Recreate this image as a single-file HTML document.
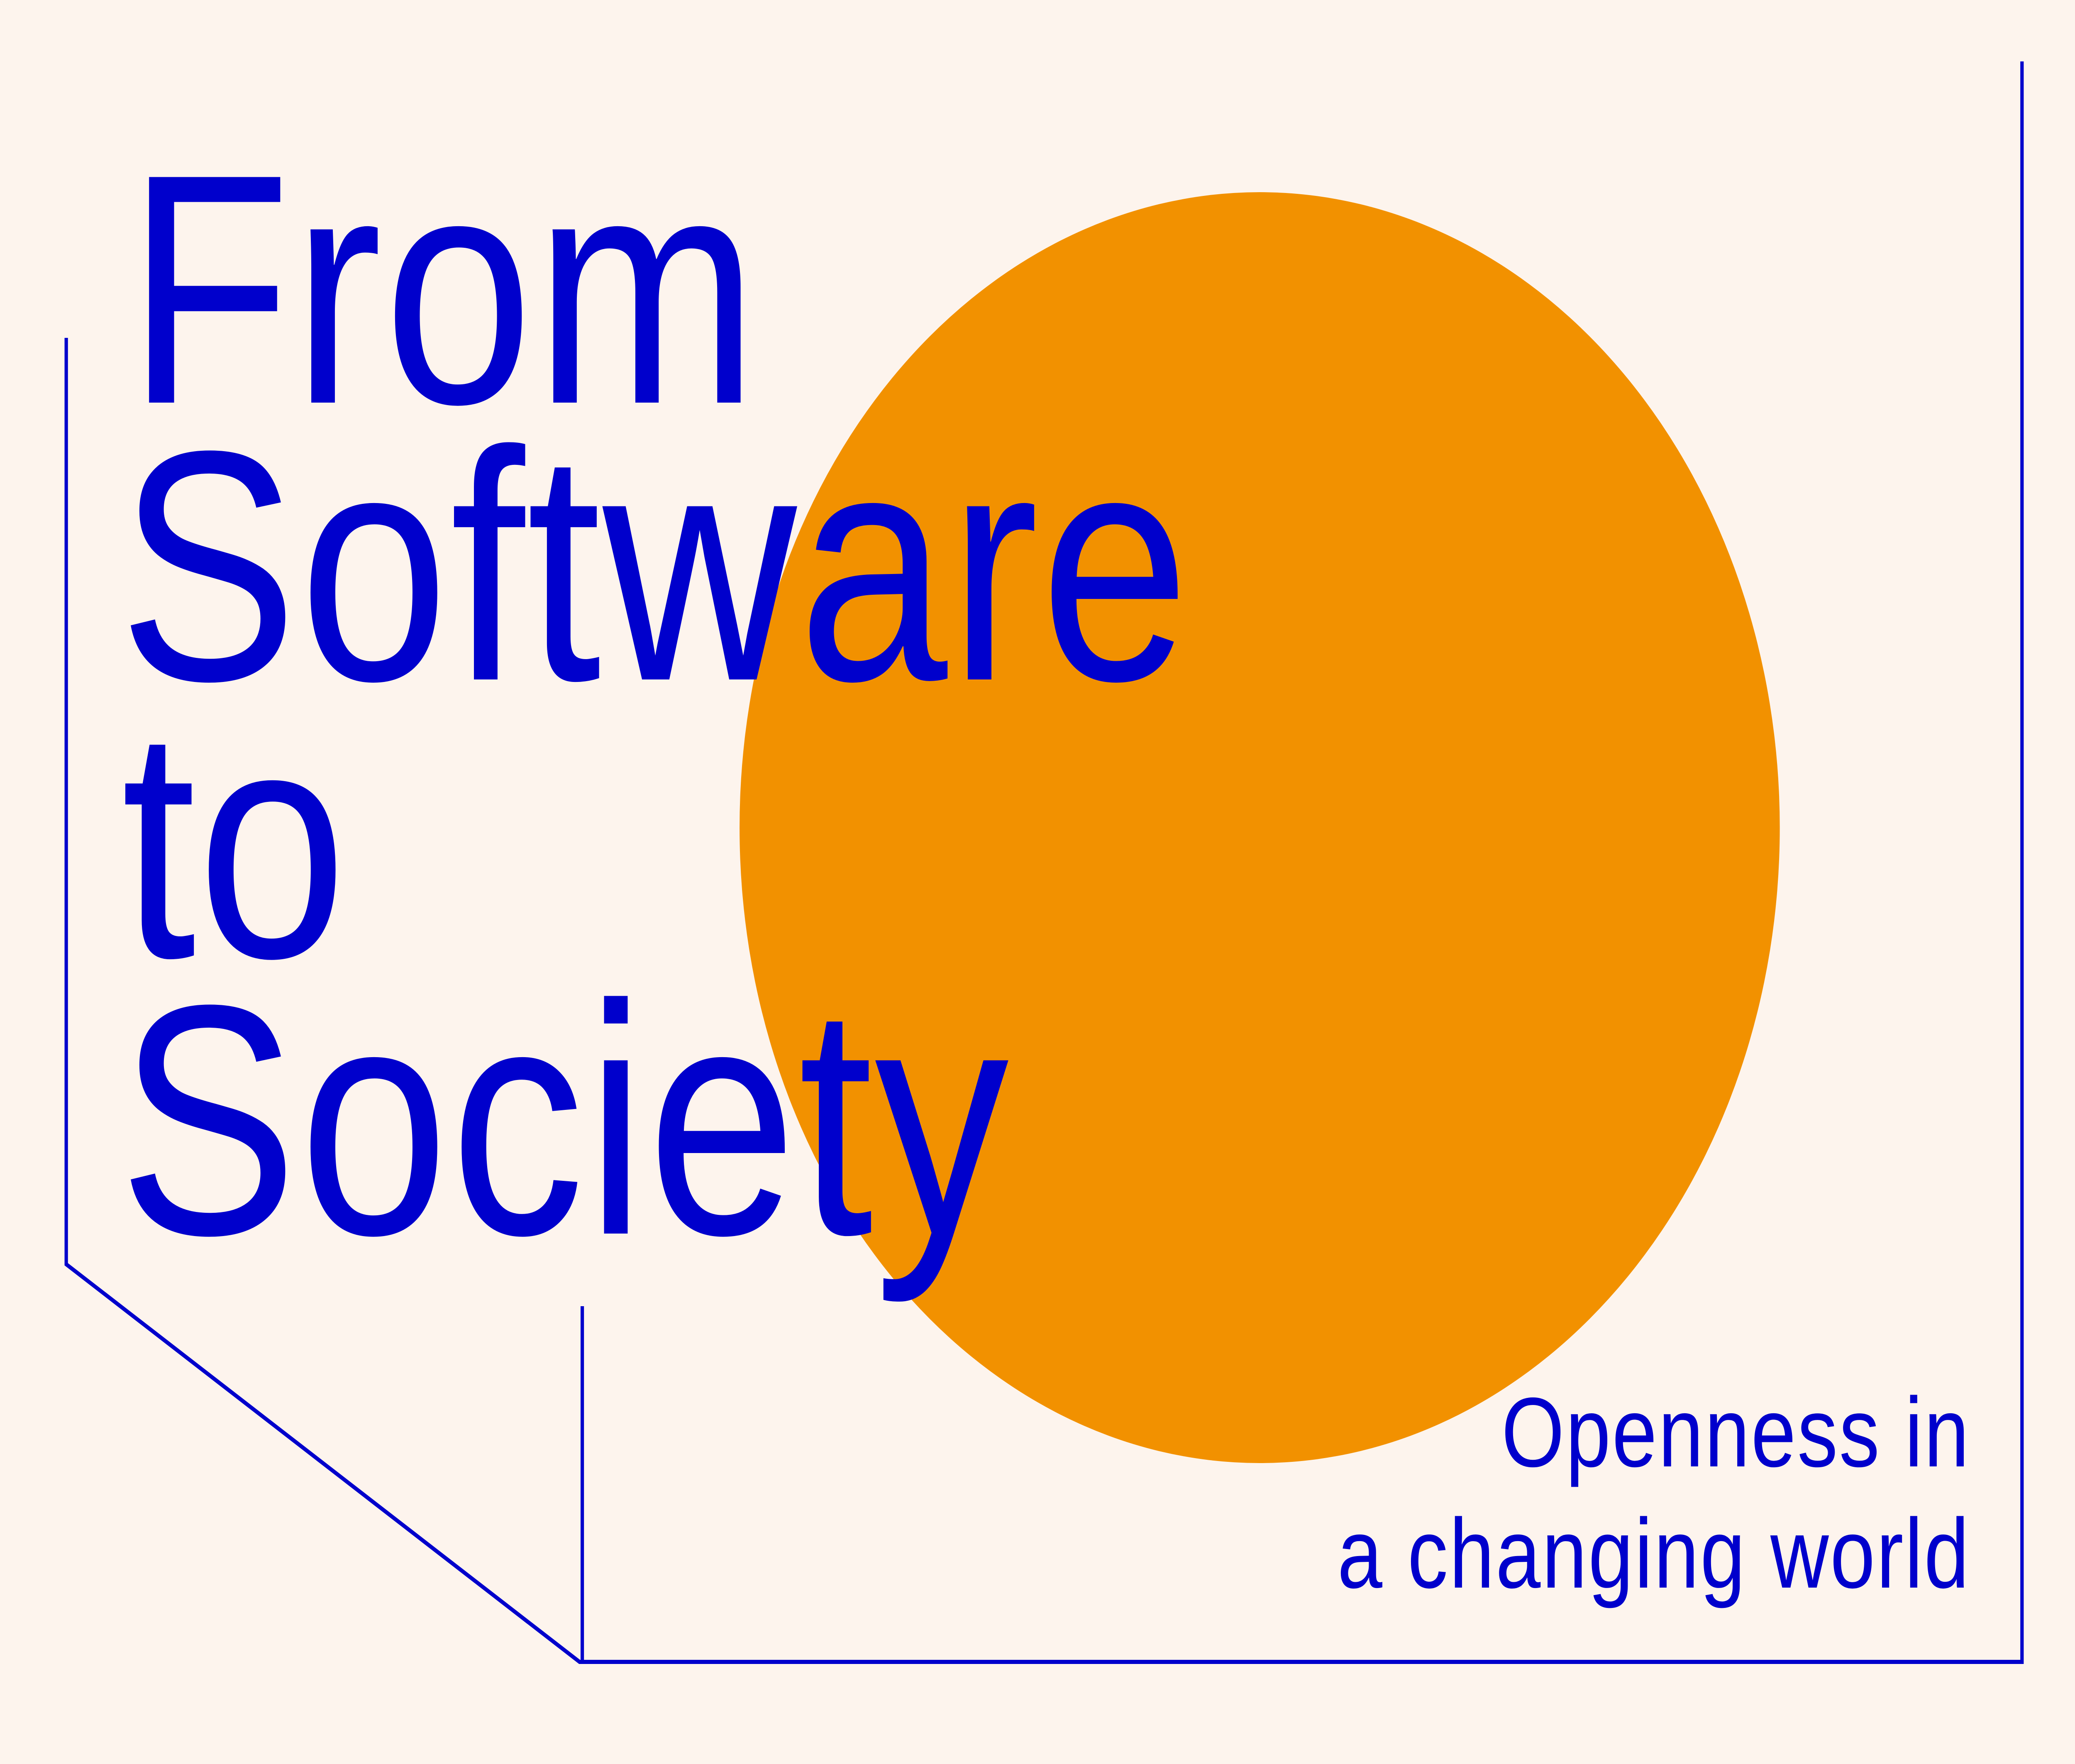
<!DOCTYPE html>
<html>
<head>
<meta charset="utf-8">
<style>
  html,body{margin:0;padding:0;background:#fdf4ed;width:100%;height:100%;overflow:hidden;}
  svg{display:block;width:100vw;height:100vh;}
  text{font-family:"Liberation Sans",sans-serif;fill:#0000cc;}
</style>
</head>
<body>
<svg viewBox="0 0 6108 4250" preserveAspectRatio="none">
  <rect x="0" y="0" width="6108" height="4250" fill="#fdf4ed"/>
  <circle cx="3708" cy="1994" r="1531" fill="#f29100"/>
  <path d="M195 814 L195 3046 L1706 4004 L5952 4004 L5952 148" fill="none" stroke="#0000cc" stroke-width="10"/>
  <line x1="1714" y1="3147" x2="1714" y2="4004" stroke="#0000cc" stroke-width="10"/>
  <g font-size="790" letter-spacing="5">
    <text x="374" y="970">From</text>
    <text x="349" y="1637">Software</text>
    <text x="357" y="2305">to</text>
    <text x="349" y="2972">Society</text>
  </g>
  <g font-size="238" text-anchor="end" letter-spacing="4">
    <text x="5800" y="3533">Openness in</text>
    <text x="5800" y="3825">a changing world</text>
  </g>
</svg>
</body>
</html>
